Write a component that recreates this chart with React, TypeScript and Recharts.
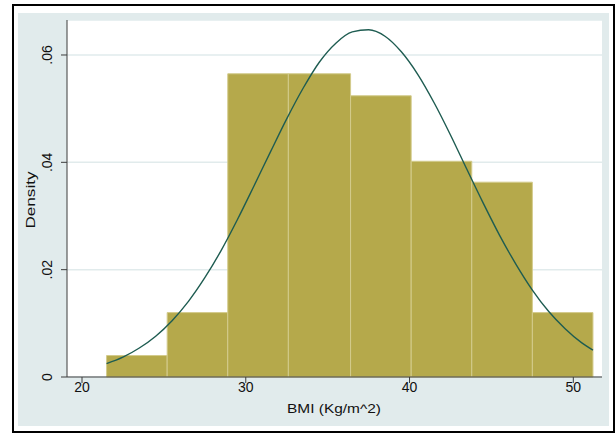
import React from 'react'
import { ComposedChart, Line, XAxis, YAxis, CartesianGrid, ReferenceArea } from 'recharts'

// ---------------------------------------------------------------------------
// Data (BMI, density scale)
// ---------------------------------------------------------------------------

const binStart = [21.5, 25.2, 28.9, 32.6, 36.4, 40.1, 43.8, 47.5]
const binEnd = [25.2, 28.9, 32.6, 36.4, 40.1, 43.8, 47.5, 51.2]
const binDensity = [0.004, 0.012, 0.0565, 0.0565, 0.0524, 0.0402, 0.0363, 0.012]

// normal density overlay, sampled from the drawn curve
const curveX = [
  21.5, 22.5, 23.5, 24.5, 25.5, 26.5, 27.5, 28.5, 29.5, 30.5, 31.5, 32.5, 33.5, 34.5, 35.5, 36.5,
  37.5, 38.5, 39.5, 40.5, 41.5, 42.5, 43.5, 44.5, 45.5, 46.5, 47.5, 48.5, 49.5, 50.5, 51.2,
]
const curveY = [
  0.0025, 0.0037, 0.0054, 0.0076, 0.0105, 0.0141, 0.0185, 0.0236, 0.0294, 0.0356, 0.0419, 0.0481,
  0.0538, 0.0587, 0.0622, 0.0643, 0.0647, 0.0635, 0.0606, 0.0564, 0.0511, 0.0451, 0.0387, 0.0324,
  0.0264, 0.021, 0.0162, 0.0122, 0.009, 0.0064, 0.005,
]

const xTicks = [20, 30, 40, 50]
const yTicks = [0, 0.02, 0.04, 0.06]

const FONT = '"Liberation Sans", Arial, sans-serif'
const BAR_FILL = '#b5a94b'
const BAR_EDGE = '#d3cb8c'
const CURVE = '#1e5c51'
const AXIS = '#3c3c3c'
const BG = '#e1ebec'

const curveData = curveX.map((x, i) => ({ x, y: curveY[i] }))

const fmtY = (v: number) => (v === 0 ? '0' : v.toFixed(2).replace(/^0/, ''))

function XTick({ x, payload }: any) {
  return (
    <text x={x} y={392} textAnchor="middle" fontSize={14} fontFamily={FONT} fill="#111">
      {payload.value}
    </text>
  )
}

function YTick({ y, payload }: any) {
  return (
    <text
      transform={`translate(52, ${y}) rotate(-90)`}
      textAnchor="middle"
      fontSize={14}
      fontFamily={FONT}
      fill="#111"
    >
      {fmtY(payload.value)}
    </text>
  )
}

export default function App() {
  return (
    <div style={{ position: 'absolute', left: 0, top: 0, width: 616, height: 434, background: '#fff' }}>
      <div
        style={{
          position: 'absolute',
          left: 12,
          top: 4,
          width: 603,
          height: 429,
          border: '2px solid #000',
          boxSizing: 'border-box',
        }}
      />
      <div style={{ position: 'absolute', left: 18, top: 13, width: 591, height: 413, background: BG }} />
      <div style={{ position: 'absolute', left: 0, top: 0 }}>
        <ComposedChart
          width={616}
          height={434}
          data={curveData}
          margin={{ top: 20, right: 14, bottom: 27, left: 37 }}
        >
          <CartesianGrid fill="#fff" vertical={false} stroke={BG} strokeWidth={1.5} />
          {binStart.map((lo, i) => (
            <ReferenceArea
              key={i}
              x1={lo}
              x2={binEnd[i]}
              y1={0}
              y2={binDensity[i]}
              fill={BAR_FILL}
              fillOpacity={1}
              stroke={BAR_EDGE}
              strokeWidth={1}
              ifOverflow="visible"
            />
          ))}
          <XAxis
            dataKey="x"
            type="number"
            domain={[19.084, 51.752]}
            ticks={xTicks}
            height={30}
            allowDataOverflow
            stroke={AXIS}
            tickSize={6}
            tick={<XTick />}
            label={{
              content: () => (
                <text
                  x={334}
                  y={413}
                  textAnchor="middle"
                  fontSize={13}
                  fontFamily={FONT}
                  fill="#111"
                  textLength={94}
                  lengthAdjust="spacingAndGlyphs"
                >
                  BMI (Kg/m^2)
                </text>
              ),
            }}
          />
          <YAxis
            type="number"
            domain={[0, 0.06652]}
            ticks={yTicks}
            width={30}
            allowDataOverflow
            stroke={AXIS}
            tickSize={6}
            tick={<YTick />}
            label={{
              content: () => (
                <text
                  transform="translate(35, 200) rotate(-90)"
                  textAnchor="middle"
                  fontSize={13}
                  fontFamily={FONT}
                  fill="#111"
                  textLength={57}
                  lengthAdjust="spacingAndGlyphs"
                >
                  Density
                </text>
              ),
            }}
          />
          <Line
            dataKey="y"
            type="monotone"
            stroke={CURVE}
            strokeWidth={1.4}
            dot={false}
            isAnimationActive={false}
          />
        </ComposedChart>
      </div>
    </div>
  )
}
